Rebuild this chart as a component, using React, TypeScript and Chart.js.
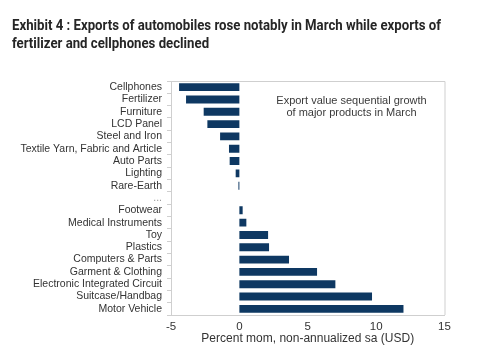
import React, { useEffect, useLayoutEffect, useRef } from "react";
import { Chart, registerables } from "chart.js";

Chart.register(...registerables);

const categories = [
  "Cellphones",
  "Fertilizer",
  "Furniture",
  "LCD Panel",
  "Steel and Iron",
  "Textile Yarn, Fabric and Article",
  "Auto Parts",
  "Lighting",
  "Rare-Earth",
  "...",
  "Footwear",
  "Medical Instruments",
  "Toy",
  "Plastics",
  "Computers & Parts",
  "Garment & Clothing",
  "Electronic Integrated Circuit",
  "Suitcase/Handbag",
  "Motor Vehicle",
];

const growthValues = [
  -4.41, -3.9, -2.61, -2.34, -1.41, -0.76, -0.71, -0.27, -0.07, null,
  0.24, 0.51, 2.1, 2.17, 3.63, 5.68, 7.02, 9.7, 12.0,
];

const xTicks = [-5, 0, 5, 10, 15];

const titleLines = [
  "Exhibit 4 : Exports of automobiles rose notably in March while exports of",
  "fertilizer and cellphones declined",
];
const annotationLines = [
  "Export value sequential growth",
  "of major products in March",
];
const xAxisTitle = "Percent mom, non-annualized sa (USD)";

const BAR_COLOR = "#0e3862";
const FRAME = "#cfcfcf";

export default function App() {
  const canvasRef = useRef<HTMLCanvasElement | null>(null);
  const line1Ref = useRef<HTMLSpanElement | null>(null);
  const line2Ref = useRef<HTMLSpanElement | null>(null);

  useLayoutEffect(() => {
    const l1 = line1Ref.current;
    const l2 = line2Ref.current;
    if (!l1 || !l2) return;
    const w = l1.getBoundingClientRect().width;
    const s = w > 0 ? 429 / w : 1;
    l1.style.transform = `scaleX(${s})`;
    l2.style.transform = `scaleX(${s})`;
  }, []);

  useEffect(() => {
    if (!canvasRef.current) return;
    const framePlugin = {
      id: "frame",
      beforeDatasetsDraw(chart: any) {
        const { ctx, chartArea } = chart;
        ctx.save();
        ctx.strokeStyle = FRAME;
        ctx.lineWidth = 1;
        ctx.beginPath();
        ctx.moveTo(chartArea.left, chartArea.top + 0.5);
        ctx.lineTo(chartArea.right + 0.5, chartArea.top + 0.5);
        ctx.lineTo(chartArea.right + 0.5, chartArea.bottom);
        ctx.stroke();
        ctx.restore();
      },
      afterDraw(chart: any) {
        const { ctx, scales } = chart;
        const cx = scales.x.getPixelForValue(8.2);
        const top = chart.chartArea.top;
        ctx.save();
        ctx.fillStyle = "#3a3a3a";
        ctx.font = "11px 'Liberation Sans', Arial, sans-serif";
        ctx.textAlign = "center";
        ctx.textBaseline = "middle";
        annotationLines.forEach((t, i) => {
          ctx.fillText(t, cx, top + 20 + i * 12);
        });
        ctx.restore();
      },
    };

    const chart = new Chart(canvasRef.current, {
      type: "bar",
      data: {
        labels: categories,
        datasets: [
          {
            data: growthValues as any,
            backgroundColor: BAR_COLOR,
            borderWidth: 0,
            barPercentage: 0.64,
            categoryPercentage: 1,
          },
        ],
      },
      options: {
        indexAxis: "y",
        animation: false,
        responsive: false,
        maintainAspectRatio: false,
        layout: { padding: { top: 81, right: 40.5, bottom: 0, left: 0 } },
        plugins: {
          legend: { display: false },
          tooltip: { enabled: false },
          title: { display: false },
        },
        scales: {
          x: {
            min: -5,
            max: 15,
            afterBuildTicks(scale: any) {
              scale.ticks = xTicks.map((v) => ({ value: v }));
            },
            afterFit(scale: any) {
              scale.height = 45;
            },
            grid: { display: false, drawTicks: false, tickLength: 0 },
            border: { display: true, color: FRAME, width: 1 },
            ticks: {
              color: "#333",
              padding: 4.8,
              font: { family: "'Liberation Sans', Arial, sans-serif", size: 11.5 },
            },
            title: {
              display: true,
              text: xAxisTitle,
              color: "#333",
              padding: { top: 0, bottom: 14 },
              font: { family: "'Liberation Sans', Arial, sans-serif", size: 12 },
            },
          },
          y: {
            afterFit(scale: any) {
              scale.width = 171;
            },
            grid: {
              display: true,
              drawOnChartArea: false,
              drawTicks: true,
              tickLength: 4,
              offset: true,
              color: FRAME,
            },
            border: { display: true, color: FRAME, width: 1 },
            ticks: {
              color: (c: any) => (categories[c.index] === "..." ? "#9a9a9a" : "#333"),
              padding: 5,
              autoSkip: false,
              font: { family: "'Liberation Sans', Arial, sans-serif", size: 10.5 },
            },
          },
        },
      },
      plugins: [framePlugin],
    });
    return () => chart.destroy();
  }, []);

  return (
    <div
      style={{
        position: "fixed",
        left: 0,
        top: 0,
        width: 485,
        height: 360,
        background: "#fff",
        overflow: "hidden",
      }}
    >
      <canvas
        ref={canvasRef}
        width={485}
        height={360}
        style={{ position: "absolute", left: 0, top: 0, width: 485, height: 360 }}
      />
      <div
        style={{
          position: "absolute",
          left: 12,
          top: 17,
          fontFamily: "Roboto, 'Liberation Sans', sans-serif",
          fontWeight: 700,
          fontSize: 15,
          lineHeight: "17.6px",
          color: "#262626",
          whiteSpace: "nowrap",
        }}
      >
        <span ref={line1Ref} style={{ display: "inline-block", transformOrigin: "0 0" }}>
          {titleLines[0]}
        </span>
        <br />
        <span ref={line2Ref} style={{ display: "inline-block", transformOrigin: "0 0" }}>
          {titleLines[1]}
        </span>
      </div>
    </div>
  );
}
